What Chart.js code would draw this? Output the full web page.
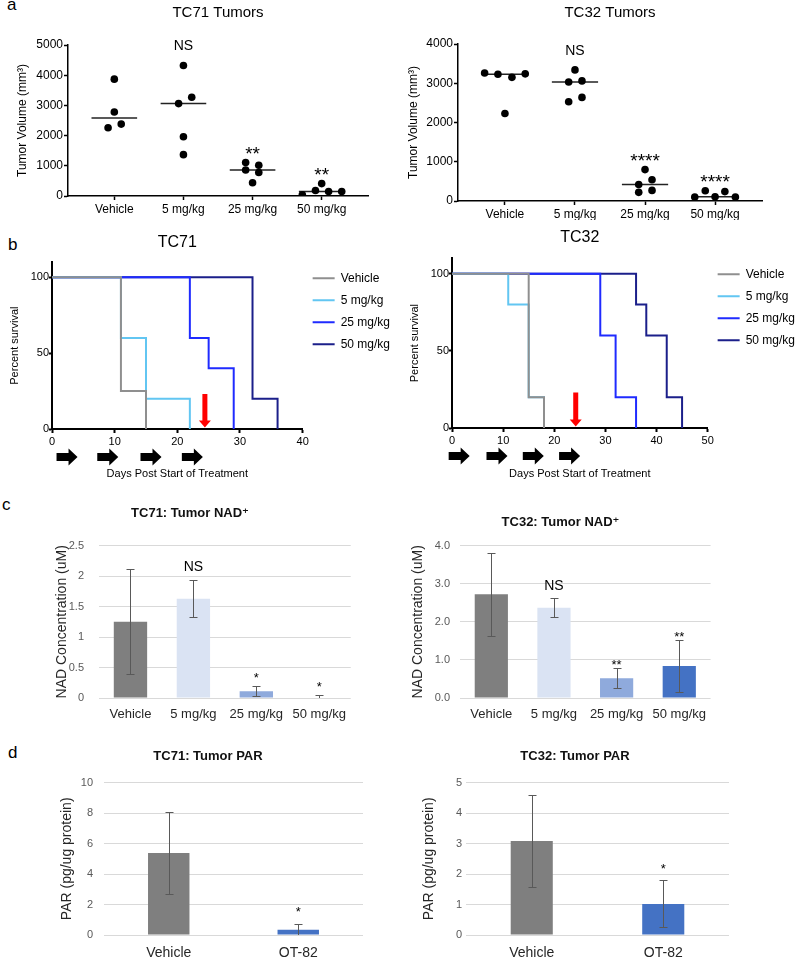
<!DOCTYPE html>
<html>
<head>
<meta charset="utf-8">
<script src="https://cdn.jsdelivr.net/npm/chart.js@4"></script>
<style>
    body { margin: 0; background: #fff; width: 798px; height: 957px; position: relative; overflow: hidden;
           font-family: 'Liberation Sans', Arial, sans-serif; }
    canvas { position: absolute; }
    .tag { position: absolute; font-size: 17px; line-height: 17px; color: #000; }
</style>
</head>
<body>
<div class="tag" style="left:7px;top:-4px">a</div>
<div class="tag" style="left:8px;top:236px">b</div>
<div class="tag" style="left:2px;top:496px">c</div>
<div class="tag" style="left:8px;top:744px">d</div>

<canvas id="tc71Tumor" width="400" height="220" style="left:0;top:0"></canvas>
<canvas id="tc32Tumor" width="398" height="220" style="left:400px;top:0"></canvas>
<canvas id="tc71Surv" width="400" height="255" style="left:0;top:228px"></canvas>
<canvas id="tc32Surv" width="405" height="255" style="left:400px;top:228px"></canvas>
<canvas id="tc71Nad" width="330" height="240" style="left:25px;top:490px"></canvas>
<canvas id="tc32Nad" width="309" height="240" style="left:406px;top:490px"></canvas>
<canvas id="tc71Par" width="310" height="217" style="left:53px;top:740px"></canvas>
<canvas id="tc32Par" width="314" height="217" style="left:421px;top:740px"></canvas>

<script>
// ---- data ----
const doseGroups = ['Vehicle', '5 mg/kg', '25 mg/kg', '50 mg/kg'];

// a: tumor volumes (mm3), one list per group, with horizontal spread of the dots
const tc71Volume = [[3870, 2780, 2380, 2260], [4320, 3270, 3060, 1960, 1370], [1110, 1020, 860, 780, 440], [410, 180, 150, 150, 40]];
const tc71Spread = [[0, 0, 0.1, -0.09], [0, 0.12, -0.07, 0, 0], [-0.1, 0.09, -0.1, 0.09, 0], [0, -0.09, 0.1, 0.29, -0.28]];
const tc71VolumeSig = ['', 'NS', '**', '**'];
const tc32Volume = [[3260, 3230, 3150, 3240, 2230], [3340, 3030, 3060, 2530, 2640], [800, 420, 540, 220, 270], [100, 260, 110, 240, 100]];
const tc32Spread = [[-0.29, -0.1, 0.1, 0.29, 0], [0, -0.09, 0.1, -0.09, 0.1], [0, -0.09, 0.1, -0.09, 0.1], [-0.29, -0.14, 0, 0.14, 0.29]];
const tc32VolumeSig = ['', 'NS', '****', '****'];

// b: Kaplan-Meier steps [day, percent survival]
const survivalTicks = [0, 50, 100];
const tc71Survival = [
    [[0, 100], [11, 25], [15, 0]],
    [[0, 100], [11, 60], [15, 20], [22, 0]],
    [[0, 100], [22, 60], [25, 40], [29, 0]],
    [[0, 100], [32, 20], [36, 0]],
];
const tc32Survival = [
    [[0, 100], [15, 20], [18, 0]],
    [[0, 100], [11, 80], [15, 20], [18, 0]],
    [[0, 100], [29, 60], [32, 20], [36, 0]],
    [[0, 100], [36, 80], [38, 60], [42, 20], [45, 0]],
];
const tc71DoseDays = [2.4, 8.9, 15.8, 22.4];
const tc32DoseDays = [1.4, 8.8, 15.9, 23.0];
const tc71StopDay = 24.4;
const tc32StopDay = 24.2;

// c: tumor NAD+ (uM), mean and error
const tc71Nad = [1.25, 1.63, 0.11, -0.01];
const tc71NadErr = [0.86, 0.30, 0.08, 0.06];
const tc71NadSig = ['', 'NS', '*', '*'];
const tc32Nad = [2.72, 2.37, 0.52, 0.84];
const tc32NadErr = [1.09, 0.25, 0.26, 0.67];
const tc32NadSig = ['', 'NS', '**', '**'];

// d: tumor PAR (pg/ug protein)
const parGroups = ['Vehicle', 'OT-82'];
const tc71Par = [5.38, 0.35];
const tc71ParErr = [2.68, 0.40];
const tc71ParSig = ['', '*'];
const tc32Par = [3.08, 1.02];
const tc32ParErr = [1.50, 0.77];
const tc32ParSig = ['', '*'];

// ---- styling / helpers ----
const FONT = "'Liberation Sans', Arial, 'DejaVu Sans', sans-serif";
Chart.defaults.font.family = FONT;
Chart.defaults.color = '#000';
Chart.defaults.animation = false;
Chart.defaults.plugins.tooltip.enabled = false;
Chart.defaults.plugins.legend.display = false;

const survivalColors = ['#8f8f8f', '#62c6f2', '#1f2bff', '#1b1f8a'];
const nadColors = ['#7f7f7f', '#dae3f3', '#8faadc', '#4472c4'];
const parColors = ['#7f7f7f', '#4472c4'];

const fixWidth = (w) => (axis) => { axis.width = w; };
const fixHeight = (h) => (axis) => { axis.height = h; };

function median(list) {
    const s = [...list].sort((p, q) => p - q);
    const m = s.length >> 1;
    return s.length % 2 ? s[m] : (s[m - 1] + s[m]) / 2;
}

const sigLabels = {
    id: 'sigLabels',
    afterDatasetsDraw(chart, args, opts) {
        if (!opts.labels) return;
        const { ctx } = chart;
        const y = chart.scales.y;
        const bars = chart.getDatasetMeta(0).data;
        ctx.save();
        ctx.textAlign = 'center';
        ctx.textBaseline = 'middle';
        ctx.fillStyle = '#000';
        opts.labels.forEach((text, i) => {
            if (!text) return;
            const star = text.startsWith('*');
            ctx.font = `${star ? opts.starSize : opts.nsSize}px ${FONT}`;
            const px = opts.onBars ? bars[i].x : chart.scales.x.getPixelForValue(i + 1);
            const py = y.getPixelForValue(opts.tops[i]) - (star ? opts.starLift : opts.nsLift);
            ctx.fillText(text, px, py);
        });
        ctx.restore();
    },
};

const errorBars = {
    id: 'errorBars',
    afterDatasetsDraw(chart, args, opts) {
        if (!opts.errors) return;
        const { ctx, chartArea } = chart;
        const y = chart.scales.y;
        const values = chart.data.datasets[0].data;
        ctx.save();
        ctx.beginPath();
        ctx.rect(chartArea.left, chartArea.top, chartArea.width, chartArea.height);
        ctx.clip();
        ctx.strokeStyle = '#595959';
        ctx.lineWidth = 1;
        chart.getDatasetMeta(0).data.forEach((bar, i) => {
            const hi = Math.round(y.getPixelForValue(values[i] + opts.errors[i])) + 0.5;
            const lo = Math.round(y.getPixelForValue(values[i] - opts.errors[i])) + 0.5;
            const x = Math.round(bar.x) + 0.5;
            ctx.beginPath();
            ctx.moveTo(x, hi); ctx.lineTo(x, lo);
            ctx.moveTo(x - 4, hi); ctx.lineTo(x + 4, hi);
            ctx.moveTo(x - 4, lo); ctx.lineTo(x + 4, lo);
            ctx.stroke();
        });
        ctx.restore();
    },
};

const doseArrows = {
    id: 'doseArrows',
    afterDraw(chart, args, opts) {
        if (!opts.days) return;
        const { ctx, chartArea } = chart;
        const { x, y } = chart.scales;
        ctx.save();
        ctx.fillStyle = '#000';
        const ay = chartArea.bottom + 28;
        opts.days.forEach((d) => {
            const cx = x.getPixelForValue(d);
            ctx.beginPath();
            ctx.moveTo(cx - 10.5, ay - 4);
            ctx.lineTo(cx + 1.5, ay - 4);
            ctx.lineTo(cx + 1.5, ay - 8.5);
            ctx.lineTo(cx + 10.5, ay);
            ctx.lineTo(cx + 1.5, ay + 8.5);
            ctx.lineTo(cx + 1.5, ay + 4);
            ctx.lineTo(cx - 10.5, ay + 4);
            ctx.closePath();
            ctx.fill();
        });
        // red arrow: end of treatment
        const rx = x.getPixelForValue(opts.stop);
        const top = y.getPixelForValue(23);
        const tip = y.getPixelForValue(0) - 1.5;
        ctx.fillStyle = '#ff0000';
        ctx.beginPath();
        ctx.moveTo(rx - 2.5, top);
        ctx.lineTo(rx + 2.5, top);
        ctx.lineTo(rx + 2.5, tip - 7);
        ctx.lineTo(rx + 6, tip - 7);
        ctx.lineTo(rx, tip);
        ctx.lineTo(rx - 6, tip - 7);
        ctx.lineTo(rx - 2.5, tip - 7);
        ctx.closePath();
        ctx.fill();
        ctx.restore();
    },
};

// ---- a: tumor volume dot plots ----
function tumorChart(id, title, values, spread, sig, yMax, geo) {
    const dots = values.flatMap((g, i) => g.map((v, j) => ({ x: i + 1 + spread[i][j], y: v })));
    const medians = values.map((g, i) => ({
        type: 'line',
        data: [{ x: i + 0.67, y: median(g) }, { x: i + 1.33, y: median(g) }],
        borderColor: '#222',
        borderWidth: 1.5,
        pointRadius: 0,
    }));
    const axisLine = { color: '#000', width: 1.5 };
    new Chart(document.getElementById(id), {
        type: 'scatter',
        data: {
            datasets: [
                { data: dots, pointRadius: 3.8, pointBackgroundColor: '#000', pointBorderColor: '#000', pointBorderWidth: 0 },
                ...medians,
            ],
        },
        options: {
            responsive: false,
            layout: { padding: { left: 0, top: 0, right: geo.right, bottom: 0 } },
            plugins: {
                title: { display: true, text: title, fullSize: false, color: '#000',
                         font: { size: 15, weight: 'normal' }, padding: { top: 4, bottom: geo.titleGap } },
                sigLabels: { labels: sig, tops: values.map((g) => Math.max(...g)),
                             nsSize: 14, starSize: 19, nsLift: 19, starLift: 8 },
            },
            scales: {
                x: {
                    type: 'linear', min: 0.33, max: 4.67,
                    afterBuildTicks: (axis) => { axis.ticks = doseGroups.map((_, i) => ({ value: i + 1 })); },
                    afterFit: fixHeight(geo.xh),
                    ticks: { callback: (v) => doseGroups[v - 1], font: { size: 12 }, padding: 2, color: '#000' },
                    grid: { drawOnChartArea: false, tickLength: 4, color: '#000', tickWidth: 1.5 },
                    border: axisLine,
                },
                y: {
                    min: 0, max: yMax,
                    afterFit: fixWidth(geo.yw),
                    ticks: { stepSize: 1000, callback: (v) => String(v), font: { size: 12 }, padding: 1, color: '#000' },
                    grid: { drawOnChartArea: false, tickLength: 4, color: '#000', tickWidth: 1.5 },
                    border: axisLine,
                    title: { display: true, text: 'Tumor Volume (mm³)', font: { size: 12 }, color: '#000',
                             padding: { top: geo.yTitle, bottom: 0 } },
                },
            },
        },
        plugins: [sigLabels],
    });
}

// ---- b: survival curves ----
function survivalChart(id, title, curves, xMax, doseDays, stopDay, geo) {
    const axisLine = { color: '#000', width: 2 };
    new Chart(document.getElementById(id), {
        type: 'line',
        data: {
            datasets: doseGroups.map((name, i) => ({
                label: name,
                data: curves[i].map(([d, p]) => ({ x: d, y: p })),
                stepped: true,
                borderColor: survivalColors[i],
                backgroundColor: survivalColors[i],
                borderWidth: 2,
                borderJoinStyle: 'miter',
                pointRadius: 0,
                fill: false,
            })),
        },
        options: {
            responsive: false,
            layout: { padding: { left: 0, top: 0, right: 0, bottom: 0 } },
            plugins: {
                title: { display: true, text: title, fullSize: false, color: '#000',
                         font: { size: 16, weight: 'normal' }, padding: { top: geo.titleTop, bottom: geo.titleGap } },
                legend: {
                    display: true, position: 'right', align: 'start', fullSize: false,
                    labels: { usePointStyle: true, pointStyle: 'line', pointStyleWidth: 22,
                              font: { size: 12 }, padding: 10, color: '#000' },
                },
                doseArrows: { days: doseDays, stop: stopDay },
            },
            scales: {
                x: {
                    type: 'linear', min: 0, max: xMax,
                    afterFit: fixHeight(geo.xh),
                    ticks: { stepSize: 10, font: { size: 11 }, padding: 2, color: '#000' },
                    grid: { drawOnChartArea: false, tickLength: 4, color: '#000', tickWidth: 2 },
                    border: axisLine,
                    title: { display: true, text: 'Days Post Start of Treatment', font: { size: 11 }, color: '#000',
                             padding: { top: 0, bottom: 2 } },
                },
                y: {
                    min: 0, max: 110,
                    afterBuildTicks: (axis) => { axis.ticks = survivalTicks.map((v) => ({ value: v })); },
                    afterFit: fixWidth(52),
                    ticks: { font: { size: 11 }, padding: 0, color: '#000' },
                    grid: { drawOnChartArea: false, tickLength: 3, color: '#000', tickWidth: 2 },
                    border: axisLine,
                    title: { display: true, text: 'Percent survival', font: { size: 11 }, color: '#000',
                             padding: { top: 8, bottom: 0 } },
                },
            },
        },
        plugins: [doseArrows],
    });
}

// ---- c/d: bar charts with error bars ----
function barChart(id, title, labels, values, errors, sig, colors, geo) {
    new Chart(document.getElementById(id), {
        type: 'bar',
        data: {
            labels,
            datasets: [{ data: values, backgroundColor: colors, barPercentage: geo.bar, categoryPercentage: 1, clip: 4 }],
        },
        options: {
            responsive: false,
            layout: { padding: { left: 0, top: 0, right: geo.right || 0, bottom: 0 } },
            plugins: {
                title: { display: true, text: title, color: '#111', font: { size: 13, weight: 'bold' },
                         padding: { top: geo.titleTop, bottom: geo.titleGap } },
                errorBars: { errors },
                sigLabels: { labels: sig, tops: values.map((v, i) => v + errors[i]), onBars: true,
                             nsSize: 14, starSize: 13, nsLift: geo.nsLift || 12, starLift: geo.starLift },
            },
            scales: {
                x: {
                    afterFit: fixHeight(geo.xh),
                    grid: { display: false, drawTicks: false },
                    border: { display: false },
                    ticks: { font: { size: geo.xFont }, color: '#262626', padding: geo.xPad },
                },
                y: {
                    min: 0, max: geo.max,
                    afterFit: fixWidth(geo.yw),
                    ticks: { stepSize: geo.step, font: { size: 11 }, color: '#595959', padding: geo.tickPad,
                             callback: geo.fmt || ((v) => String(+v.toFixed(2))) },
                    grid: { color: '#d9d9d9', drawTicks: false },
                    border: { display: false },
                    title: { display: true, text: geo.yTitle, font: { size: 14 }, color: '#262626',
                             padding: { top: geo.yTitlePad, bottom: 0 } },
                },
            },
        },
        plugins: [errorBars, sigLabels],
    });
}

tumorChart('tc71Tumor', 'TC71 Tumors', tc71Volume, tc71Spread, tc71VolumeSig, 5000,
    { right: 32, titleGap: 23, xh: 24, yw: 68, yTitle: 15 });
tumorChart('tc32Tumor', 'TC32 Tumors', tc32Volume, tc32Spread, tc32VolumeSig, 4000,
    { right: 36, titleGap: 22, xh: 19, yw: 58, yTitle: 6 });

survivalChart('tc71Surv', 'TC71', tc71Survival, 40, tc71DoseDays, tc71StopDay,
    { titleTop: 5, titleGap: 10, xh: 54 });
survivalChart('tc32Surv', 'TC32', tc32Survival, 50, tc32DoseDays, tc32StopDay,
    { titleTop: 0, titleGap: 11, xh: 55 });

barChart('tc71Nad', 'TC71: Tumor NAD⁺', doseGroups, tc71Nad, tc71NadErr, tc71NadSig, nadColors,
    { bar: 0.53, titleTop: 16, titleGap: 24, xh: 32, xFont: 13, xPad: 9, max: 2.5, step: 0.5, tickPad: 15,
      yw: 74, yTitle: 'NAD Concentration (uM)', yTitlePad: 29, nsLift: 13, starLift: 8 });
barChart('tc32Nad', 'TC32: Tumor NAD⁺', doseGroups, tc32Nad, tc32NadErr, tc32NadSig, nadColors,
    { bar: 0.53, titleTop: 25, titleGap: 15, xh: 32, xFont: 13, xPad: 9, max: 4, step: 1, tickPad: 10,
      fmt: (v) => v.toFixed(1), yw: 54, yTitle: 'NAD Concentration (uM)', yTitlePad: 4, nsLift: 12, starLift: 3 });

barChart('tc71Par', 'TC71: Tumor PAR', parGroups, tc71Par, tc71ParErr, tc71ParSig, parColors,
    { bar: 0.32, titleTop: 9, titleGap: 18, xh: 22, xFont: 14, xPad: 10, max: 10, step: 2, tickPad: 11,
      yw: 51, yTitle: 'PAR (pg/ug protein)', yTitlePad: 6, starLift: 11 });
barChart('tc32Par', 'TC32: Tumor PAR', parGroups, tc32Par, tc32ParErr, tc32ParSig, parColors,
    { bar: 0.32, right: 6, titleTop: 9, titleGap: 18, xh: 22, xFont: 14, xPad: 10, max: 5, step: 1, tickPad: 4,
      yw: 45, yTitle: 'PAR (pg/ug protein)', yTitlePad: 0, starLift: 11 });
</script>
</body>
</html>
